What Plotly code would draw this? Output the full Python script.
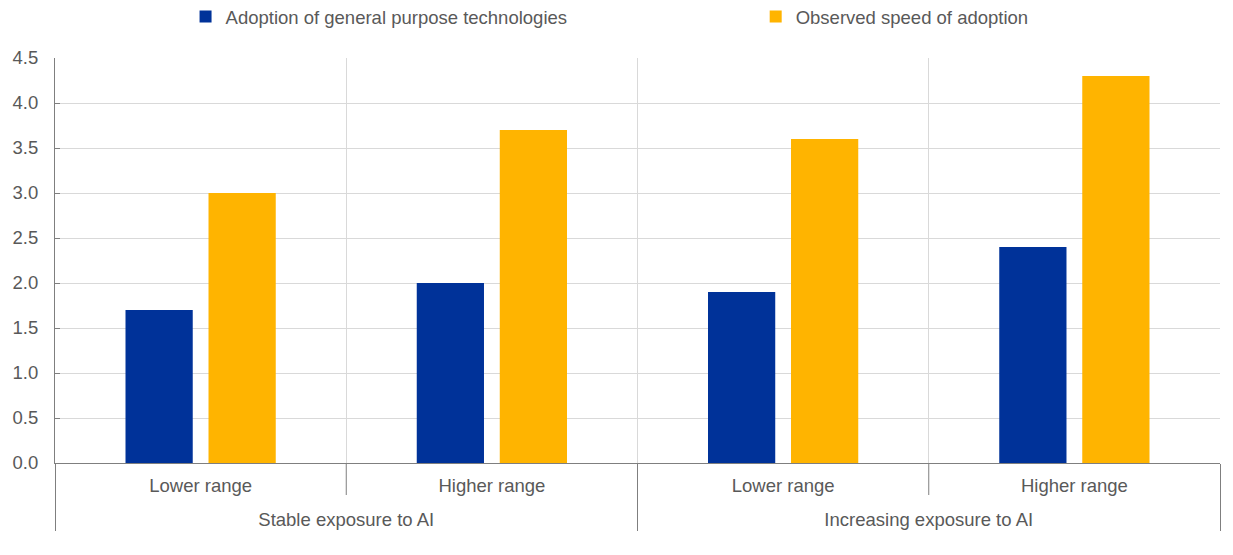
import plotly.graph_objects as go

outer_labels = ["Stable exposure to AI", "Stable exposure to AI",
                "Increasing exposure to AI", "Increasing exposure to AI"]
inner_labels = ["Lower range", "Higher range", "Lower range", "Higher range"]
gpt_adoption = [1.7, 2.0, 1.9, 2.4]
observed_speed = [3.0, 3.7, 3.6, 4.3]
y_ticks = [0, 0.5, 1, 1.5, 2, 2.5, 3, 3.5, 4, 4.5]

text_color = "#595959"
axis_color = "#7f7f7f"
grid_color = "#d9d9d9"
fs = 18.5
base_fs = 8.5  # small base font for the category axis -> finer line spacing


def big(t):
    return "<span style='font-size:%spx'>%s</span>" % (fs, t)


spacer = "<br><span style='font-size:2px;color:white'>.</span>"
outer = ["<br><br>" + big(t) for t in outer_labels]
inner = [big(t) + spacer for t in inner_labels]

fig = go.Figure()
fig.add_trace(go.Bar(x=[outer, inner], y=gpt_adoption,
                     name="Adoption of general purpose technologies",
                     marker=dict(color="#003299", line=dict(width=0)),
                     legend="legend"))
fig.add_trace(go.Bar(x=[outer, inner], y=observed_speed,
                     name="Observed speed of adoption",
                     marker=dict(color="#FFB400", line=dict(width=0)),
                     legend="legend2"))

# inner-category separators below the axis
for xb in [0.5, 2.5]:
    fig.add_shape(type="line", xref="x", yref="y domain",
                  x0=xb, x1=xb, y0=0, y1=-32 / 405,
                  line=dict(color=axis_color, width=1))

leg_common = dict(orientation="h", yref="container", y=0.9838, yanchor="middle",
                  xref="container", xanchor="left",
                  font=dict(size=fs, color=text_color),
                  itemwidth=30, bgcolor="rgba(0,0,0,0)")

fig.update_layout(
    width=1233, height=555,
    margin=dict(l=47, r=21, t=50, b=100, autoexpand=False),
    paper_bgcolor="white", plot_bgcolor="white",
    font=dict(family="Liberation Sans, Arial, sans-serif", size=fs, color=text_color),
    barmode="group", bargap=0.43, bargroupgap=0.19,
    showlegend=True,
    legend=dict(x=0.144, **leg_common),
    legend2=dict(x=0.6064, **leg_common),
    xaxis=dict(showgrid=True, gridcolor=grid_color, gridwidth=1,
               tickson="boundaries", ticks="", automargin=False,
               showline=True, linecolor=axis_color, linewidth=1,
               showdividers=True, dividercolor=axis_color, dividerwidth=1,
               ticklabelstandoff=18,
               tickfont=dict(size=base_fs, color=text_color)),
    yaxis=dict(range=[0, 4.5], tickvals=y_ticks, tickformat=".1f",
               showgrid=True, gridcolor=grid_color, gridwidth=1,
               showline=True, linecolor=axis_color, linewidth=1,
               ticks="inside", ticklen=5, tickcolor=axis_color,
               automargin=False, ticklabelstandoff=12,
               zeroline=False, tickfont=dict(size=fs, color=text_color)),
)

fig.write_html("out.html")
